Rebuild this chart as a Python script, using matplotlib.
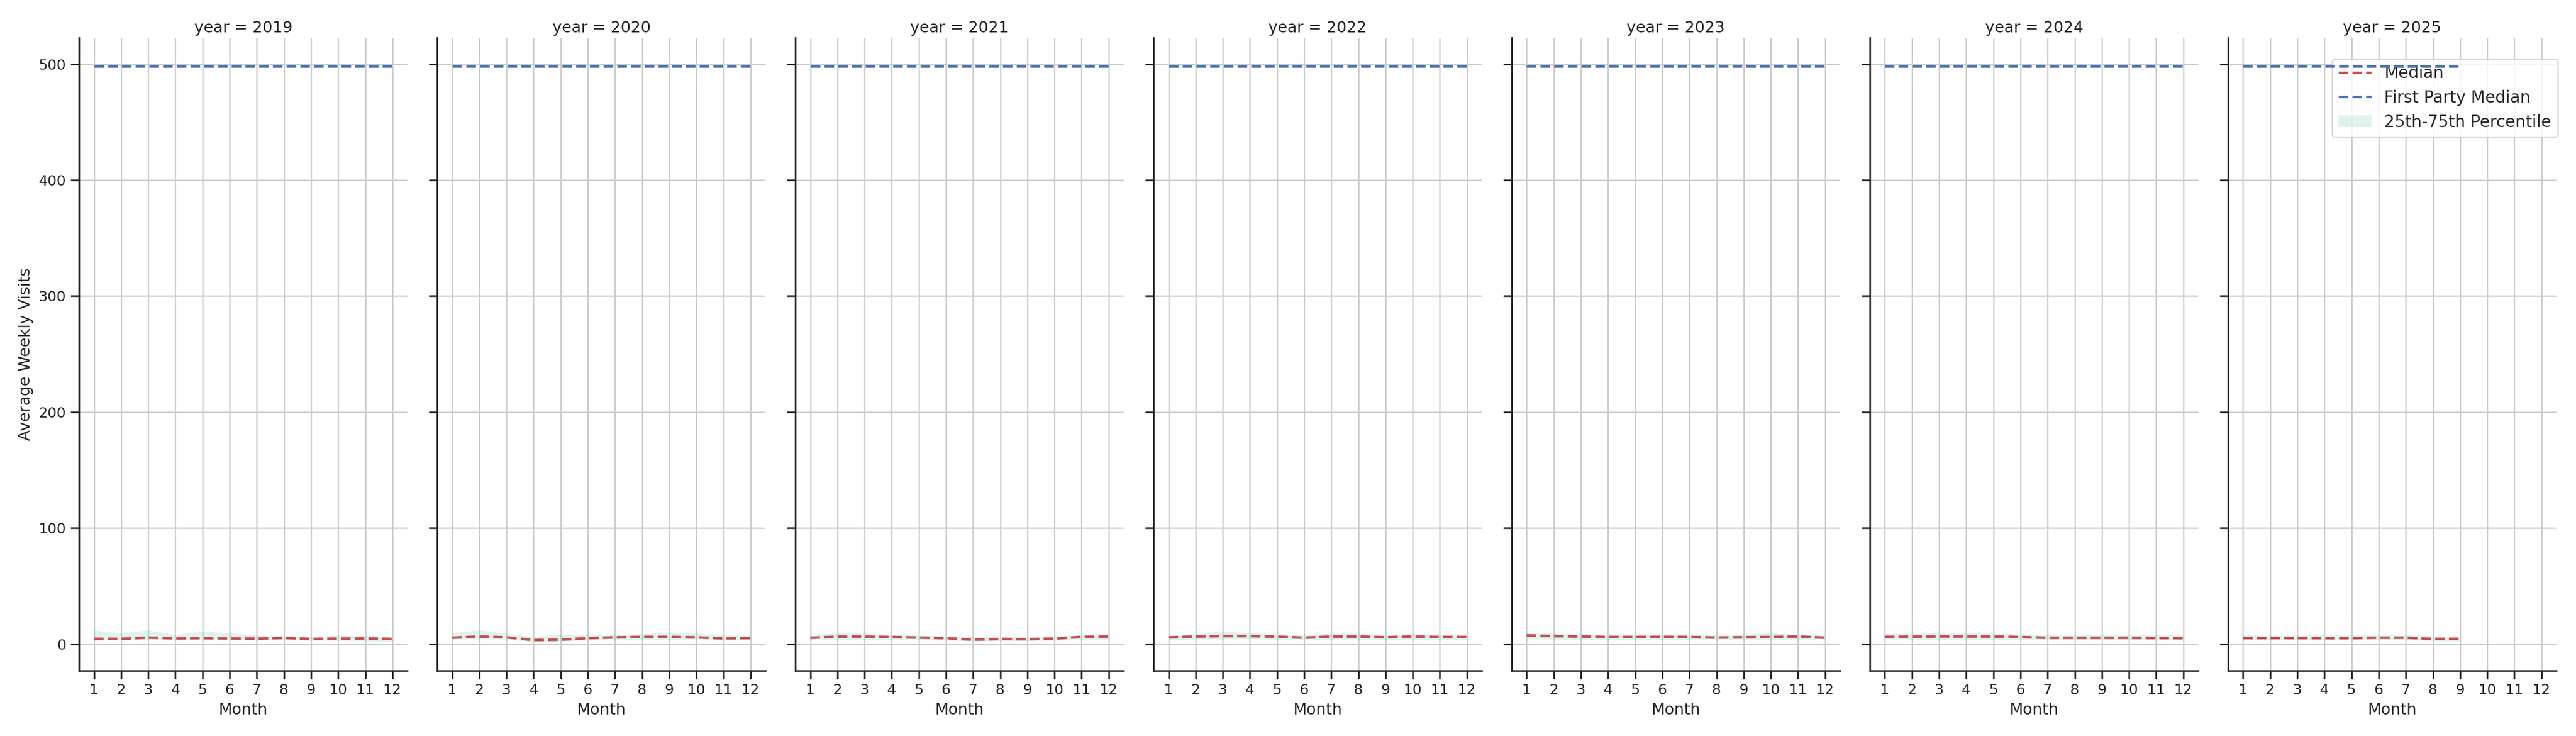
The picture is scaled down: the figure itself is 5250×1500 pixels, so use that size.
### Monthly visits per year, faceted like a seaborn FacetGrid
import matplotlib
matplotlib.use("Agg")
import matplotlib.pyplot as plt

### Data
years  = [2019, 2020, 2021, 2022, 2023, 2024, 2025]
months = [1, 2, 3, 4, 5, 6, 7, 8, 9, 10, 11, 12]

median_2019 = [4.5, 4.5, 5.6, 4.9, 5.1, 4.9, 4.7, 5.3, 4.4, 4.7, 4.9, 4.4]
p75_2019    = [11.7, 9.5, 12.0, 8.1, 10.9, 9.7, 7.5, 7.2, 6.4, 7.5, 7.2, 6.1]
p25_2019    = [3.0, 3.4, 3.8, 3.2, 3.5, 3.4, 3.2, 3.5, 3.0, 3.0, 2.7, 2.0]

median_2020 = [5.5, 6.5, 5.8, 3.5, 3.8, 5.1, 5.8, 6.2, 6.2, 5.8, 4.9, 5.2]
p75_2020    = [9.7, 12.0, 9.2, 6.4, 8.1, 8.6, 8.1, 8.9, 9.7, 9.2, 8.1, 7.5]
p25_2020    = [4.1, 4.4, 4.1, 2.0, 2.4, 3.2, 3.5, 3.8, 3.5, 3.5, 3.2, 3.5]

median_2021 = [5.4, 6.4, 6.4, 6.1, 5.6, 5.1, 3.8, 4.4, 4.2, 4.7, 6.2, 6.5]
p75_2021    = [8.3, 9.2, 9.5, 8.1, 7.5, 6.9, 6.4, 6.1, 6.4, 6.9, 8.1, 8.9]
p25_2021    = [3.8, 3.8, 3.5, 3.8, 3.5, 3.2, 2.4, 2.7, 2.7, 3.0, 3.8, 4.1]

median_2022 = [5.8, 6.5, 6.9, 6.9, 6.4, 5.5, 6.5, 6.5, 5.9, 6.5, 6.1, 6.1]
p75_2022    = [6.9, 8.9, 10.9, 9.7, 8.6, 7.8, 9.2, 9.2, 8.3, 8.9, 8.6, 8.6]
p25_2022    = [3.5, 4.1, 4.4, 4.4, 3.8, 3.5, 4.1, 4.1, 3.5, 4.1, 3.8, 3.8]

median_2023 = [7.5, 6.9, 6.5, 6.1, 6.1, 6.2, 6.1, 5.6, 5.9, 6.1, 6.5, 5.5]
p75_2023    = [10.0, 9.2, 8.9, 8.6, 8.6, 8.6, 8.6, 8.3, 8.6, 9.5, 8.1, 8.1]
p25_2023    = [4.4, 4.1, 3.8, 3.5, 3.8, 3.5, 3.8, 3.5, 3.5, 3.8, 4.1, 3.8]

median_2024 = [6.2, 6.4, 6.6, 6.6, 6.5, 6.1, 5.4, 5.4, 5.4, 5.4, 5.2, 5.1]
p75_2024    = [8.9, 9.2, 9.7, 9.7, 9.2, 8.3, 8.1, 8.1, 8.1, 8.1, 8.1, 7.8]
p25_2024    = [4.1, 4.1, 3.8, 3.8, 3.8, 3.5, 3.5, 3.5, 3.5, 3.5, 3.5, 3.5]

# 2025 only runs to September
median_2025 = [5.2, 5.2, 5.2, 5.1, 5.1, 5.5, 5.5, 4.4, 4.5]
p75_2025    = [7.8, 7.5, 7.5, 7.8, 8.1, 8.3, 8.3, 6.9, 6.6]
p25_2025    = [3.8, 3.8, 3.5, 3.5, 3.5, 3.5, 3.5, 2.7, 2.4]

# first party median sits just under 500 every month
fp_2019 = [498, 498, 498, 498, 498, 498, 498, 498, 498, 498, 498, 498]
fp_2020 = [498, 498, 498, 498, 498, 498, 498, 498, 498, 498, 498, 498]
fp_2021 = [498, 498, 498, 498, 498, 498, 498, 498, 498, 498, 498, 498]
fp_2022 = [498, 498, 498, 498, 498, 498, 498, 498, 498, 498, 498, 498]
fp_2023 = [498, 498, 498, 498, 498, 498, 498, 498, 498, 498, 498, 498]
fp_2024 = [498, 498, 498, 498, 498, 498, 498, 498, 498, 498, 498, 498]
fp_2025 = [498, 498, 498, 498, 498, 498, 498, 498, 498]

medians = [median_2019, median_2020, median_2021, median_2022, median_2023, median_2024, median_2025]
p75s    = [p75_2019, p75_2020, p75_2021, p75_2022, p75_2023, p75_2024, p75_2025]
p25s    = [p25_2019, p25_2020, p25_2021, p25_2022, p25_2023, p25_2024, p25_2025]
fps     = [fp_2019, fp_2020, fp_2021, fp_2022, fp_2023, fp_2024, fp_2025]

### Style (seaborn-ish "ticks" look, done by hand)
dark = "0.15"
plt.rcParams.update({
    "font.family": "DejaVu Sans",
    "text.color": dark,
    "axes.labelcolor": dark,
    "axes.edgecolor": dark,
    "axes.linewidth": 1.25,
    "xtick.color": dark,
    "ytick.color": dark,
})

red   = "#C44E52"
blue  = "#4C72B0"
green = "#66c2a5"

### Plotting
fig = plt.figure(figsize=(26.25, 7.5), dpi=200)
axes = fig.subplots(1, len(years), sharex=True, sharey=True)
fig.subplots_adjust(left=0.0307, right=0.9924, bottom=0.0889, top=0.9489, wspace=0.091)

for ax, year, med, lo, hi, fp in zip(axes, years, medians, p25s, p75s, fps):
    x = months[:len(med)]
    band = ax.fill_between(x, lo, hi, color=green, alpha=0.2, lw=0, label="25th-75th Percentile")
    l_med, = ax.plot(x, med, "--", color=red, lw=1.9, label="Median")
    l_fp, = ax.plot(x, fp, "--", color=blue, lw=1.9, label="First Party Median")

    ax.grid(True, color="#cccccc", lw=1)
    ax.set_axisbelow(True)
    for side in ["top", "right"]:
        ax.spines[side].set_visible(False)
    ax.tick_params(direction="out", length=6, width=1.25, labelsize=10.6, pad=3.5)
    ax.set_xticks(months)
    ax.set_title(f"year = {year}", fontsize=11.5, pad=4)
    ax.set_xlabel("Month", fontsize=11.5)

axes[0].set_ylabel("Average Weekly Visits", fontsize=11.5)

# legend order: Median, First Party Median, band
# (in the original the blue line runs over the legend box, so keep it underneath)
leg = axes[-1].legend([l_med, l_fp, band], ["Median", "First Party Median", "25th-75th Percentile"],
                      loc="upper right", bbox_to_anchor=(1.0045, 0.9664), borderaxespad=0,
                      fontsize=12, edgecolor="0.8", framealpha=0.8)
leg.set_zorder(1.9)

fig.savefig("out.png", dpi=200)
